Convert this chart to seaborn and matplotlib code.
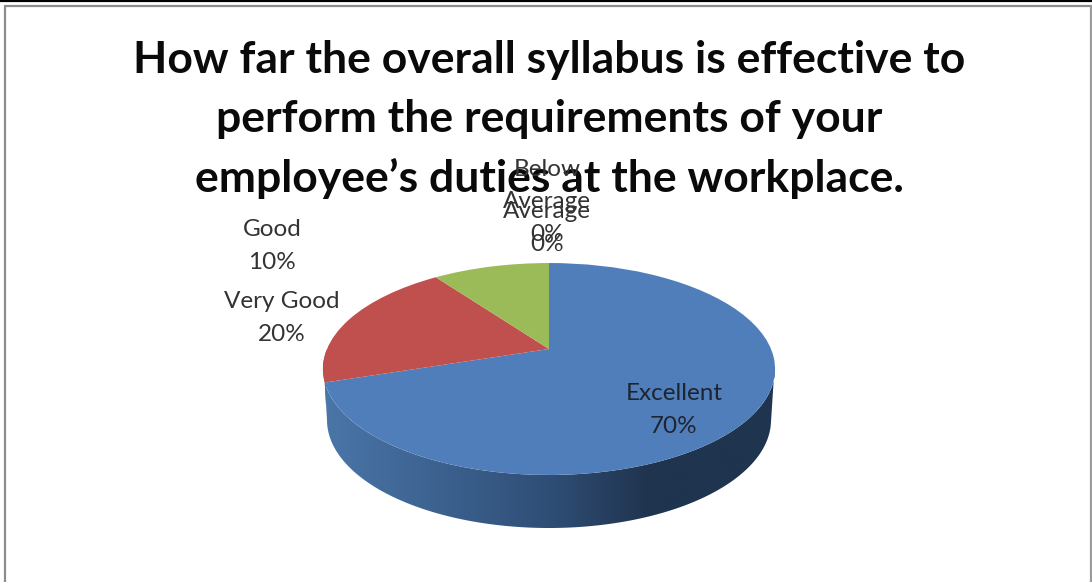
"""3D-look pie chart: how effective the overall syllabus is at the workplace."""

import numpy as np
import matplotlib
matplotlib.use('Agg')
import matplotlib.pyplot as plt
import seaborn as sns
from matplotlib.colors import LinearSegmentedColormap
from matplotlib.patches import Polygon
from matplotlib.transforms import Transform

CATEGORIES = ["Excellent", "Very Good", "Good", "Average", "Below\nAverage"]
VALUES = [70, 20, 10, 0, 0]
TITLE_LINES = [
    "How far the overall syllabus is effective to",
    "perform the requirements of your",
    "employee\u2019s duties at the workplace.",
]

sns.set_theme(style="white")
plt.rcParams["font.family"] = ["Lato", "DejaVu Sans"]
COLORS = sns.color_palette(["#4F7EBB", "#C0504D", "#9BBB59", "#8064A2", "#4BACC6"])

W, H = 1092, 582

# perspective of the pie top, in pixels
CX, CY = 549, 349
A, B, K = 222, 102.2, 0.1887


class TiltTransform(Transform):
    input_dims = output_dims = 2

    def transform_non_affine(self, values):
        x, y = np.asarray(values).T
        d = 1 + K * y
        return np.column_stack([CX + A * x / d, CY - B * y / d])


fig = plt.figure(figsize=(W / 100, H / 100), dpi=100, facecolor="white")
ax = fig.add_axes([0, 0, 1, 1])

wedges, _ = ax.pie(VALUES, startangle=90, counterclock=False, colors=COLORS,
                   wedgeprops={"linewidth": 0})
ax.set_aspect("auto")
ax.set_xlim(0, W)
ax.set_ylim(H, 0)
ax.set_axis_off()

tilt = TiltTransform()
for w in wedges:
    w.set_transform(tilt + ax.transData)
    w.set_zorder(3)

# ── side wall, only the front of the blue slice shows ────────────────────────
start = np.deg2rad(90 - 360 * VALUES[0] / sum(VALUES))
top_t = np.linspace(start, np.deg2rad(-8), 200)
top_rim = tilt.transform_non_affine(np.column_stack([np.cos(top_t), np.sin(top_t)]))
bot_t = np.linspace(np.deg2rad(-2), np.deg2rad(-180), 200)
bot_rim = np.column_stack([549 + 222 * np.cos(bot_t), 420 - 108 * np.sin(bot_t)])
wall = Polygon(np.vstack([top_rim, bot_rim]), closed=True, transform=ax.transData,
               facecolor="none", edgecolor="none")
ax.add_patch(wall)

wall_cmap = LinearSegmentedColormap.from_list(
    "wall", [(0, "#4A76A8"), (0.2, "#3F6695"), (0.5, "#2F4E76"),
             (0.72, "#20344F"), (1, "#1F3450")])
img = ax.imshow(np.linspace(0, 1, 256).reshape(1, -1), cmap=wall_cmap,
                extent=(323, 775, 540, 370), aspect="auto", zorder=2)
img.set_clip_path(wall)
ax.set_xlim(0, W)
ax.set_ylim(H, 0)

# thin sliver of the red slice on the far left
red_t = np.linspace(np.deg2rad(-162), np.deg2rad(-180), 30)
red_rim = tilt.transform_non_affine(np.column_stack([np.cos(red_t), np.sin(red_t)]))
ax.add_patch(Polygon(np.vstack([red_rim, [[325.5, 405]]]), closed=True,
                     facecolor="#A8433F", edgecolor="none", zorder=1))

# ── frame ────────────────────────────────────────────────────────────────────
ax.plot([4.5, 4.5], [H, 5.5], color="#8C8C8C", lw=1.6, zorder=1)
ax.plot([4.5, W], [5.5, 5.5], color="#8C8C8C", lw=1.6, zorder=1)
ax.plot([W - 0.8, W - 0.8], [5.5, H], color="#9A9A9A", lw=1.6, zorder=1)
ax.plot([0, W], [0.5, 0.5], color="black", lw=1.6, zorder=1)

# ── title ────────────────────────────────────────────────────────────────────
for line, y in zip(TITLE_LINES, [60, 119, 178]):
    ax.text(549, y, line, ha="center", va="center", fontsize=32, fontweight="bold",
            color="#0A0A0A", zorder=5)

# ── slice labels ─────────────────────────────────────────────────────────────
LABEL_XY = [(674, 410), (282, 318), (272, 246), (547, 228), (547, 202)]
for cat, val, (x, y) in zip(CATEGORIES, VALUES, LABEL_XY):
    ax.text(x, y, f"{cat}\n{val}%", ha="center", va="center", fontsize=17.5,
            linespacing=1.68, color="#1E2530" if val == 70 else "#333333", zorder=6)

fig.savefig("out.png", dpi=100)
plt.close(fig)
